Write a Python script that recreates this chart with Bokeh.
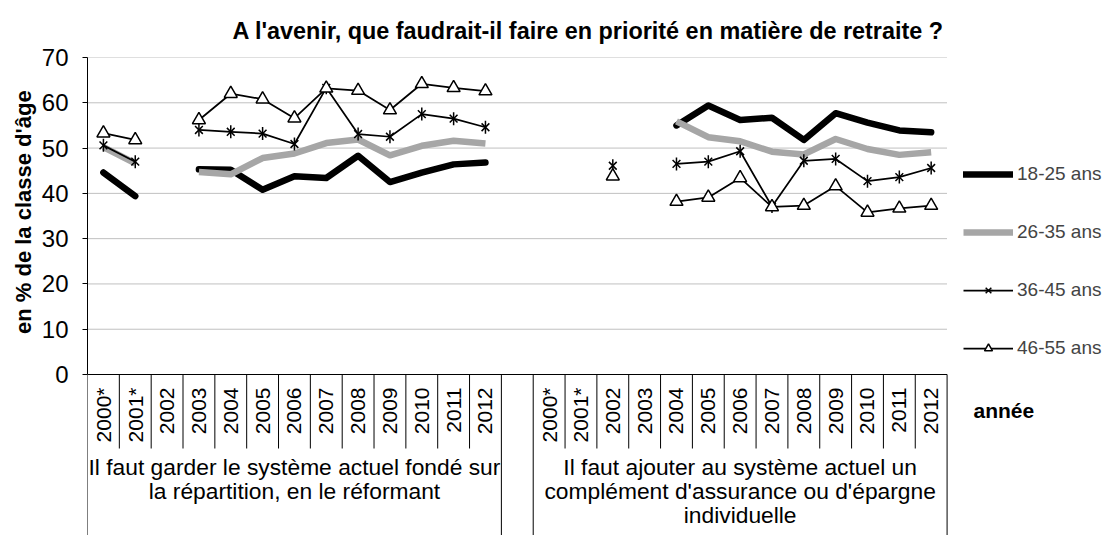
import math
import numpy as np
from bokeh.plotting import figure
from bokeh.models import (Range1d, FixedTicker, ColumnDataSource, Legend, LegendItem, Title)
from bokeh.core.properties import value
from bokeh.embed import file_html
from bokeh.resources import INLINE

# ---------------- data ----------------
title = "A l'avenir, que faudrait-il faire en priorité en matière de retraite ?"
y_title = "en % de la classe d'âge"
x_title = "année"
years = ["2000*", "2001*", "2002", "2003", "2004", "2005", "2006",
         "2007", "2008", "2009", "2010", "2011", "2012"]
groups = ["Il faut garder le système actuel fondé sur la répartition, en le réformant",
          "Il faut ajouter au système actuel un complément d'assurance ou d'épargne individuelle"]
group_lines = [["Il faut garder le système actuel fondé sur",
                "la répartition, en le réformant"],
               ["Il faut ajouter au système actuel un",
                "complément d'assurance ou d'épargne",
                "individuelle"]]
series_names = ["18-25 ans", "26-35 ans", "36-45 ans", "46-55 ans"]

a18_25_g1 = [44.6, 39.4, None, 45.3, 45.2, 40.8, 43.8, 43.4, 48.3, 42.5, 44.6, 46.4, 46.8]
a18_25_g2 = [None, None, None, None, 55.0, 59.4, 56.2, 56.7, 51.8, 57.7, 55.6, 53.9, 53.5]
a26_35_g1 = [50.2, 46.6, None, 44.7, 44.2, 47.8, 48.8, 51.1, 51.9, 48.4, 50.5, 51.6, 51.0]
a26_35_g2 = [None, None, None, None, 55.9, 52.4, 51.5, 49.2, 48.6, 52.0, 49.8, 48.5, 49.1]
a36_45_g1 = [50.6, 47.0, None, 54.0, 53.6, 53.2, 50.9, 63.3, 53.1, 52.5, 57.5, 56.5, 54.6]
a36_45_g2 = [None, None, 46.1, None, 46.5, 47.0, 49.3, 37.1, 47.2, 47.6, 42.7, 43.6, 45.6]
a46_55_g1 = [53.3, 51.8, None, 56.2, 62.0, 60.8, 56.6, 63.2, 62.7, 58.4, 64.2, 63.3, 62.6]
a46_55_g2 = [None, None, 43.8, None, 38.2, 39.1, 43.4, 37.0, 37.3, 41.6, 35.8, 36.7, 37.3]

y_ticks = [0, 10, 20, 30, 40, 50, 60, 70]

# ---------------- category scale (index based, one empty slot between groups) ----------------
N_Y = len(years)
STEP = N_Y + 1                      # one empty category between the two groups
N_CATS = len(groups) * N_Y + (len(groups) - 1)


def xpos(gi, k):
    return gi * STEP + k + 0.5


cat_x = [xpos(gi, k) for gi in range(len(groups)) for k in range(N_Y)]
cat_text = [y for _ in groups for y in years]

# ---------------- figure ----------------
FONT = "Liberation Sans"

p = figure(width=1108, height=535,
           x_range=Range1d(0, 32.07), y_range=Range1d(-35.55, 70),
           x_axis_location=None,
           output_backend="svg", toolbar_location=None,
           min_border_left=87, min_border_right=0, min_border_top=57, min_border_bottom=0,
           title=title)
p.outline_line_color = None
p.background_fill_color = "white"
p.border_fill_color = "white"

p.title.text_font = FONT
p.title.text_font_size = "23.4px"
p.title.text_font_style = "bold"
p.title.text_color = "black"
p.title.align = "left"
p.title.offset = 145
p.title.standoff = 28

ax = p.yaxis[0]
ax.ticker = FixedTicker(ticks=y_ticks)
ax.bounds = (y_ticks[0], y_ticks[-1])
ax.major_label_text_font = FONT
ax.major_label_text_font_size = "24px"
ax.major_label_text_color = "black"
ax.axis_line_color = "black"
ax.axis_line_width = 1
ax.major_tick_out = 5
ax.major_tick_in = 0
ax.major_tick_line_color = "black"
ax.minor_tick_line_color = None
ax.major_label_standoff = 14

# y title, centred on the 0-70 plot area like the original
p.add_layout(Title(text=y_title, align="left", offset=201.5, standoff=6,
                   text_font=FONT, text_font_size="22px", text_font_style="bold",
                   text_color="black"), "left")

p.xgrid.visible = False
p.ygrid.visible = False

# horizontal gridlines over the category span
p.segment(x0=[0] * (len(y_ticks) - 1), x1=[N_CATS] * (len(y_ticks) - 1),
          y0=y_ticks[1:], y1=y_ticks[1:],
          line_color="#808080", line_width=1, line_dash="1 1")
# category axis line
p.segment(x0=[0], x1=[N_CATS], y0=[0], y1=[0], line_color="black", line_width=1)

# category separators (between years) and group edges
Y_TICK_END = -16.34
Y_BOTTOM = -35.55
sx, sy1 = [], []
for gi in range(len(groups)):
    for k in range(N_Y):
        sx.append(xpos(gi, k) - 0.5)
        sy1.append(Y_BOTTOM if k == 0 else Y_TICK_END)
    sx.append(xpos(gi, N_Y - 1) + 0.5)
    sy1.append(Y_BOTTOM)
p.segment(x0=sx, x1=sx, y0=[0] * len(sx), y1=sy1, line_color="black", line_width=1)

# year labels
p.text(x=cat_x, y=[-2.87] * len(cat_x), text=cat_text,
       angle=math.pi / 2, text_align="right", text_baseline="middle",
       text_font=value(FONT), text_font_size="21px", text_color="black")

# group labels
gx, gy, gt = [], [], []
for gi, lines in enumerate(group_lines):
    for i, t in enumerate(lines):
        gx.append(gi * STEP + N_Y / 2)
        gy.append(-20.32 - i * 5.3)
        gt.append(t)
p.text(x=gx, y=gy, text=gt, text_align="center", text_baseline="middle",
       text_font=value(FONT), text_font_size="22.8px", text_color="black")

# x title
p.text(x=[N_CATS + 0.83], y=[-7.95], text=[x_title], text_align="left",
       text_baseline="middle", text_font=value(FONT), text_font_size="21px",
       text_font_style="bold", text_color="black")

# ---------------- series ----------------
def src(g1, g2):
    vals = np.array(list(g1) + list(g2), dtype=float)
    return ColumnDataSource(dict(x=cat_x, v=vals))


s1 = src(a18_25_g1, a18_25_g2)
s2 = src(a26_35_g1, a26_35_g2)
s3 = src(a36_45_g1, a36_45_g2)
s4 = src(a46_55_g1, a46_55_g2)

r1 = p.line("x", "v", source=s1, line_color="black", line_width=6.5,
            line_join="round", line_cap="round")
r2 = p.line("x", "v", source=s2, line_color="#a6a6a6", line_width=6.5,
            line_join="round")
r3 = p.line("x", "v", source=s3, line_color="black", line_width=1.75)
m3a = p.scatter("x", "v", source=s3, marker="x", size=11,
                line_color="black", line_width=1.5)
m3b = p.scatter("x", "v", source=s3, marker="dash", angle=math.pi / 2, size=13,
                line_color="black", line_width=1.5)
r4 = p.line("x", "v", source=s4, line_color="black", line_width=1.75)
m4 = p.scatter("x", "v", source=s4, marker="triangle", size=13,
               line_color="black", fill_color="white", line_width=1.5)

legend = Legend(items=[LegendItem(label=series_names[0], renderers=[r1]),
                       LegendItem(label=series_names[1], renderers=[r2]),
                       LegendItem(label=series_names[2], renderers=[r3, m3a, m3b]),
                       LegendItem(label=series_names[3], renderers=[r4, m4])],
                location=(876, 176), orientation="vertical",
                glyph_width=50, glyph_height=20, label_height=20, label_width=60,
                spacing=36, padding=0, margin=0, label_standoff=4,
                border_line_color=None, background_fill_alpha=0,
                label_text_font=FONT, label_text_font_size="19px")
p.add_layout(legend)

open("out.html", "w").write(file_html(p, INLINE))
